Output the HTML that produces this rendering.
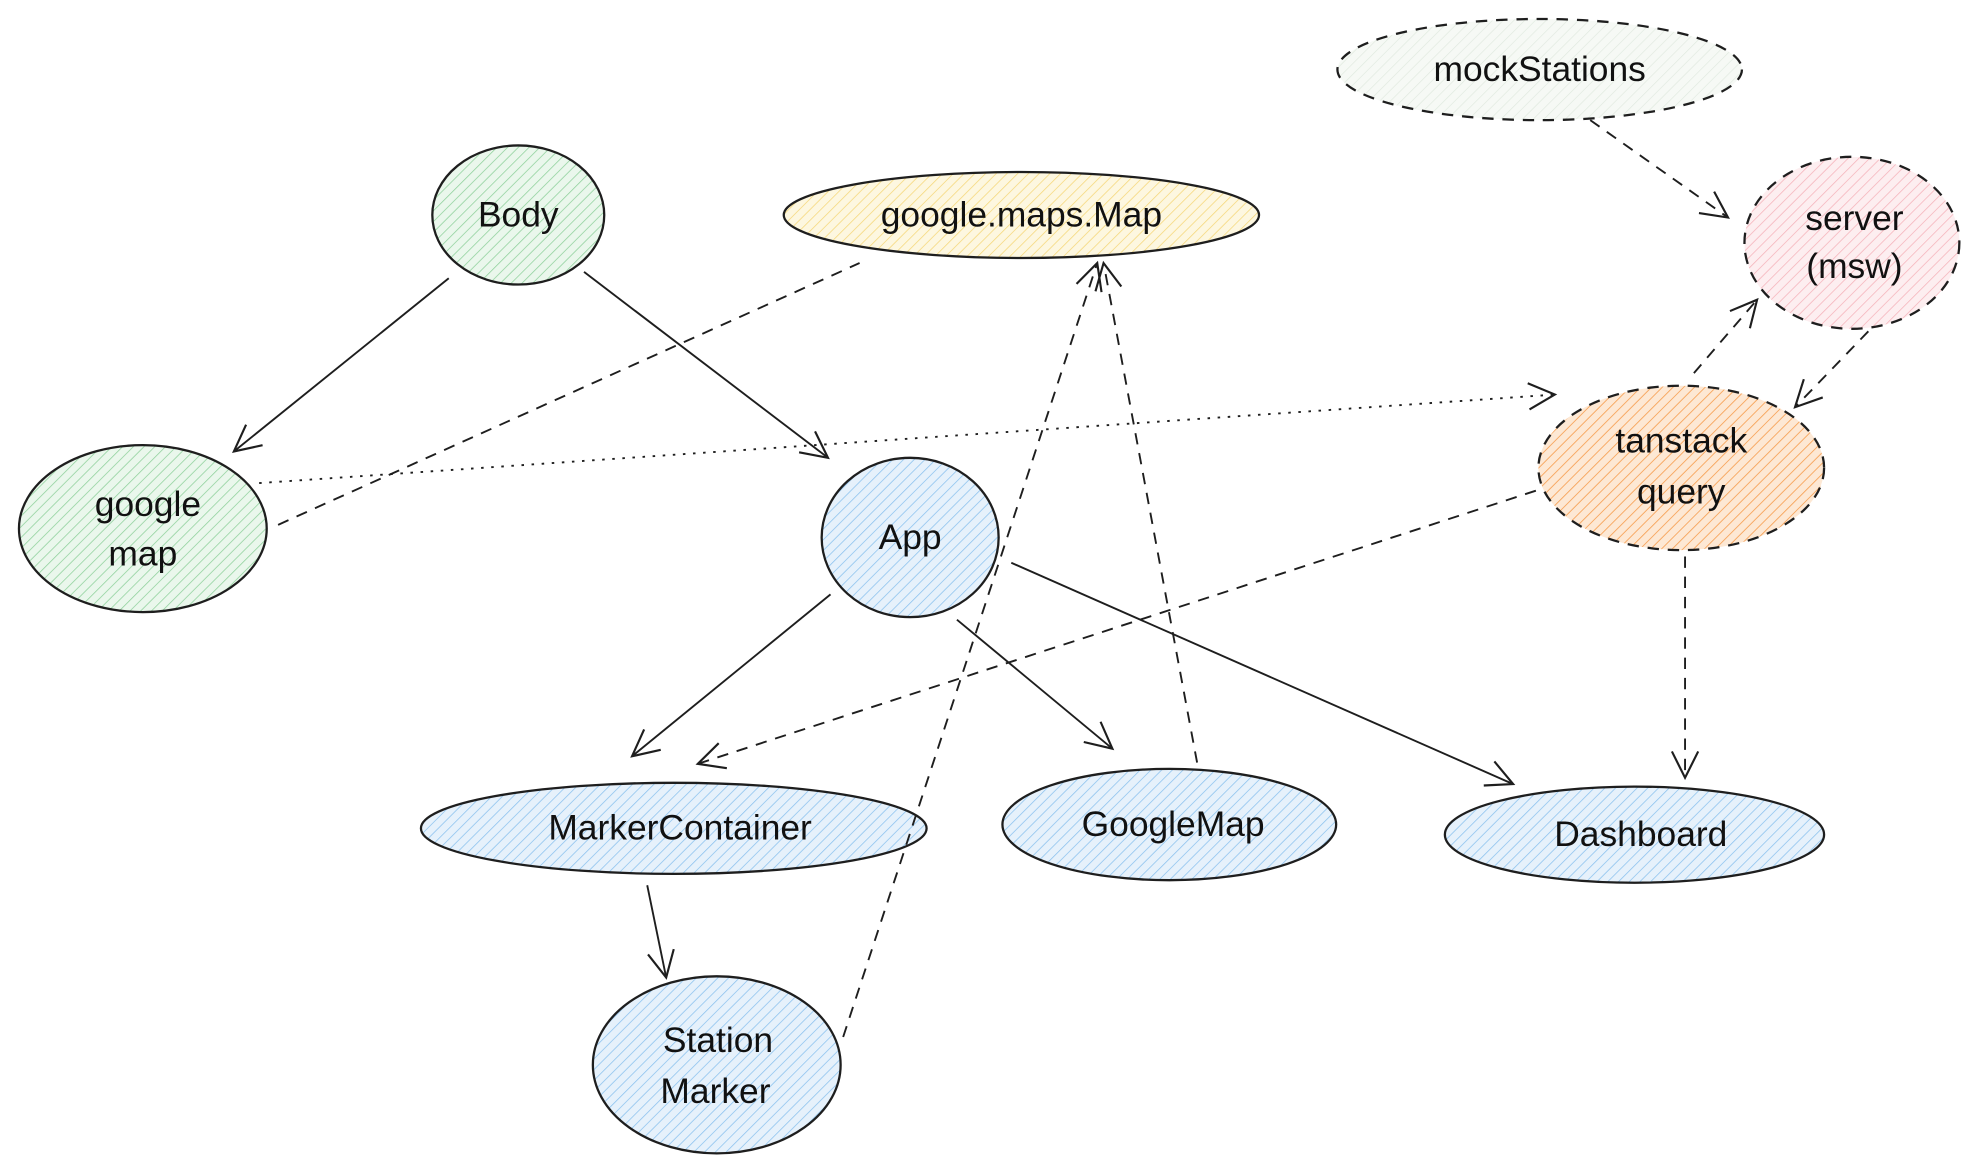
<!DOCTYPE html>
<html><head><style>html,body{margin:0;padding:0;background:#fff}svg{display:block}</style></head>
<body>
<svg width="1972" height="1166" viewBox="0 0 1560 922" preserveAspectRatio="none" xmlns="http://www.w3.org/2000/svg">
<defs>
<pattern id="pg" width="6" height="6" patternUnits="userSpaceOnUse" patternTransform="rotate(45)"><rect width="6" height="6" fill="#eaf7ec"/><line x1="0" y1="0" x2="0" y2="6" stroke="#8fd19c" stroke-width="1.2"/></pattern>
<pattern id="pb" width="6" height="6" patternUnits="userSpaceOnUse" patternTransform="rotate(45)"><rect width="6" height="6" fill="#e6f1fb"/><line x1="0" y1="0" x2="0" y2="6" stroke="#8cc2ee" stroke-width="1.2"/></pattern>
<pattern id="py" width="6" height="6" patternUnits="userSpaceOnUse" patternTransform="rotate(45)"><rect width="6" height="6" fill="#fdf7e0"/><line x1="0" y1="0" x2="0" y2="6" stroke="#f5d77a" stroke-width="1.2"/></pattern>
<pattern id="pp" width="6" height="6" patternUnits="userSpaceOnUse" patternTransform="rotate(45)"><rect width="6" height="6" fill="#fdeef0"/><line x1="0" y1="0" x2="0" y2="6" stroke="#f5b3bb" stroke-width="1.2"/></pattern>
<pattern id="po" width="6" height="6" patternUnits="userSpaceOnUse" patternTransform="rotate(45)"><rect width="6" height="6" fill="#fde8d4"/><line x1="0" y1="0" x2="0" y2="6" stroke="#f7a45a" stroke-width="1.4"/></pattern>
<pattern id="pm" width="6" height="6" patternUnits="userSpaceOnUse" patternTransform="rotate(45)"><rect width="6" height="6" fill="#f6f9f5"/><line x1="0" y1="0" x2="0" y2="6" stroke="#dfe9de" stroke-width="1"/></pattern>
<marker id="a" viewBox="0 0 20 20" refX="18" refY="10" markerWidth="26" markerHeight="26" markerUnits="userSpaceOnUse" orient="auto"><path d="M2,2 L18,10 L2,18" fill="none" stroke="#1e1e1e" stroke-width="1.3"/></marker>
</defs>
<g stroke="#1e1e1e" stroke-width="1.8">
<ellipse cx="1218" cy="55" rx="160" ry="40" fill="url(#pm)" stroke-dasharray="9 7"/>
<ellipse cx="410" cy="170" rx="68" ry="55" fill="url(#pg)"/>
<ellipse cx="808" cy="170" rx="188" ry="34" fill="url(#py)"/>
<ellipse cx="1465" cy="192" rx="85" ry="68" fill="url(#pp)" stroke-dasharray="9 7"/>
<ellipse cx="1330" cy="370" rx="113" ry="65" fill="url(#po)" stroke-dasharray="9 7"/>
<ellipse cx="113" cy="418" rx="98" ry="66" fill="url(#pg)"/>
<ellipse cx="720" cy="425" rx="70" ry="63" fill="url(#pb)"/>
<ellipse cx="533" cy="655" rx="200" ry="36" fill="url(#pb)"/>
<ellipse cx="925" cy="652" rx="132" ry="44" fill="url(#pb)"/>
<ellipse cx="1293" cy="660" rx="150" ry="38" fill="url(#pb)"/>
<ellipse cx="567" cy="842" rx="98" ry="70" fill="url(#pb)"/>
</g>
<g stroke="#1e1e1e" stroke-width="1.5" fill="none">
<line x1="355" y1="220" x2="185" y2="357" marker-end="url(#a)"/>
<line x1="462" y1="215" x2="655" y2="362" marker-end="url(#a)"/>
<line x1="657" y1="470" x2="500" y2="598" marker-end="url(#a)"/>
<line x1="757" y1="490" x2="880" y2="592" marker-end="url(#a)"/>
<line x1="800" y1="445" x2="1197" y2="620" marker-end="url(#a)"/>
<line x1="512" y1="700" x2="527" y2="773" marker-end="url(#a)"/>
<line x1="220" y1="415" x2="680" y2="208" stroke-dasharray="9 7"/>
<line x1="205" y1="382" x2="1230" y2="312" stroke-dasharray="2 6" marker-end="url(#a)"/>
<line x1="667" y1="820" x2="868" y2="208" stroke-dasharray="9 7" marker-end="url(#a)"/>
<line x1="947" y1="603" x2="873" y2="208" stroke-dasharray="9 7" marker-end="url(#a)"/>
<line x1="1215" y1="388" x2="552" y2="604" stroke-dasharray="9 7" marker-end="url(#a)"/>
<line x1="1333" y1="440" x2="1333" y2="615" stroke-dasharray="9 7" marker-end="url(#a)"/>
<line x1="1258" y1="95" x2="1367" y2="172" stroke-dasharray="9 7" marker-end="url(#a)"/>
<line x1="1340" y1="295" x2="1390" y2="237" stroke-dasharray="9 7" marker-end="url(#a)"/>
<line x1="1478" y1="262" x2="1420" y2="322" stroke-dasharray="9 7" marker-end="url(#a)"/>
</g>
<g font-family="Liberation Sans, sans-serif" font-size="28" fill="#111" text-anchor="middle">
<text x="1218" y="64">mockStations</text>
<text x="410" y="179">Body</text>
<text x="808" y="179">google.maps.Map</text>
<text x="1467" y="182">server</text>
<text x="1467" y="220">(msw)</text>
<text x="1330" y="358">tanstack</text>
<text x="1330" y="398">query</text>
<text x="117" y="408">google</text>
<text x="113" y="447">map</text>
<text x="720" y="434">App</text>
<text x="538" y="664">MarkerContainer</text>
<text x="928" y="661">GoogleMap</text>
<text x="1298" y="669">Dashboard</text>
<text x="568" y="832">Station</text>
<text x="566" y="872">Marker</text>
</g>
</svg>
</body></html>
